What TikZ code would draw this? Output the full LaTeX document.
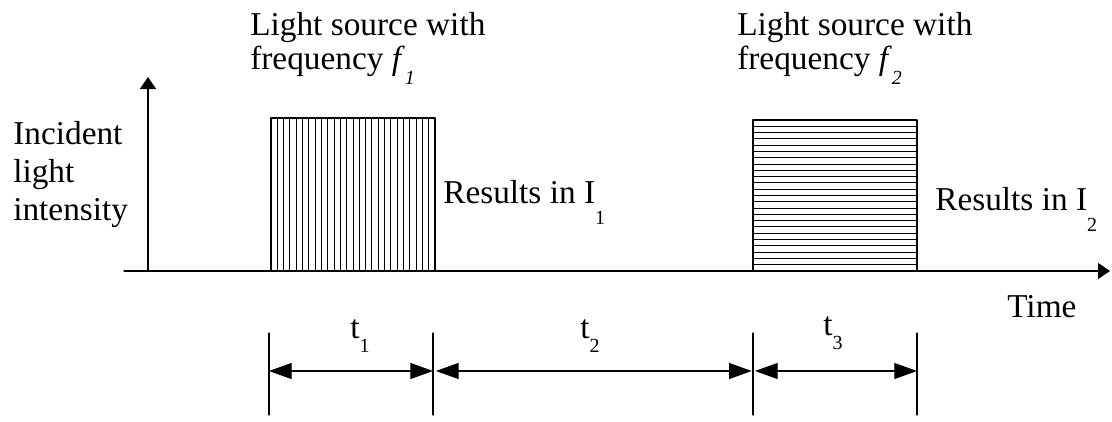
\documentclass[tikz,border=0pt]{standalone}
\usepackage{fontspec}
\setmainfont{Liberation Serif}
\usetikzlibrary{arrows.meta}
\newcommand{\lsub}[2][11pt]{\raisebox{-#1}{\fontsize{15}{15}\selectfont #2}}
\tikzset{
  lbl/.style={inner sep=0pt,font=\fontsize{25}{25.5}\selectfont,align=left},
  hatch/.style={line width=0.75pt},
  srcbox/.style={draw,line width=1.1pt},
  axis/.style={line width=1pt,-{Triangle[length=9pt,width=12pt]}},
  dimarr/.style={line width=0.9pt,
                 {Triangle[length=17pt,width=12pt]}-{Triangle[length=17pt,width=12pt]}},
  dimtick/.style={line width=0.9pt},
  every picture/.style={line cap=round,line join=round}}

\begin{document}
\begin{tikzpicture}[x=0.75pt,y=-0.75pt]
  \useasboundingbox (0,0) rectangle (1112,421);
  % axes
  \coordinate (o) at (148,271);\coordinate (ytop) at (148,77);
  \coordinate (xl) at (124,271);\coordinate (xr) at (1110,271);
  \draw[axis] (o)--(ytop);
  \draw[axis] (xl)--(xr);
  % light pulses
  \foreach \k in {1,...,25} \draw[hatch] ({271+\k*164/26},118)--({271+\k*164/26},271);
  \draw[srcbox] (271,118) rectangle (435,271);
  \foreach \k in {1,...,23} \draw[hatch] (753,{120+\k*151/24})--(917,{120+\k*151/24});
  \draw[srcbox] (753,120) rectangle (917,271);
  % labels
  \node[lbl,anchor=north west] (src1) at (250,12){Light source with\\frequency \textit{f}\lsub{\textit{1}}};
  \node[lbl,anchor=north west] (src2) at (737,12){Light source with\\frequency \textit{f}\lsub{\textit{2}}};
  \node[lbl,anchor=north west,font=\fontsize{25}{28.5}\selectfont] (ylab) at (13,121){Incident\\light\\intensity};
  \node[lbl,anchor=base west] (res1) at (443,203){Results in I\lsub[16pt]{1}};
  \node[lbl,anchor=base west] (res2) at (935,210){Results in I\lsub[16pt]{2}};
  \node[lbl,anchor=base west] (xlab) at (1007,317){Time};
  % durations
  \foreach \x [count=\i] in {269,433,753,917}{
    \coordinate (k\i) at (\x,371);
    \draw[dimtick] (\x,333)--(\x,415);}
  \draw[dimarr] (k1)--(k2);
  \draw[dimarr] ([xshift=2.2pt]k2)--([xshift=-1pt]k3);
  \draw[dimarr] ([xshift=1.5pt]k3)--(k4);
  \node[lbl,anchor=base west] (t1) at (350,338){t\lsub{1}};
  \node[lbl,anchor=base west] (t2) at (580,338){t\lsub{2}};
  \node[lbl,anchor=base west] (t3) at (823,335){t\lsub{3}};
\end{tikzpicture}
\end{document}
